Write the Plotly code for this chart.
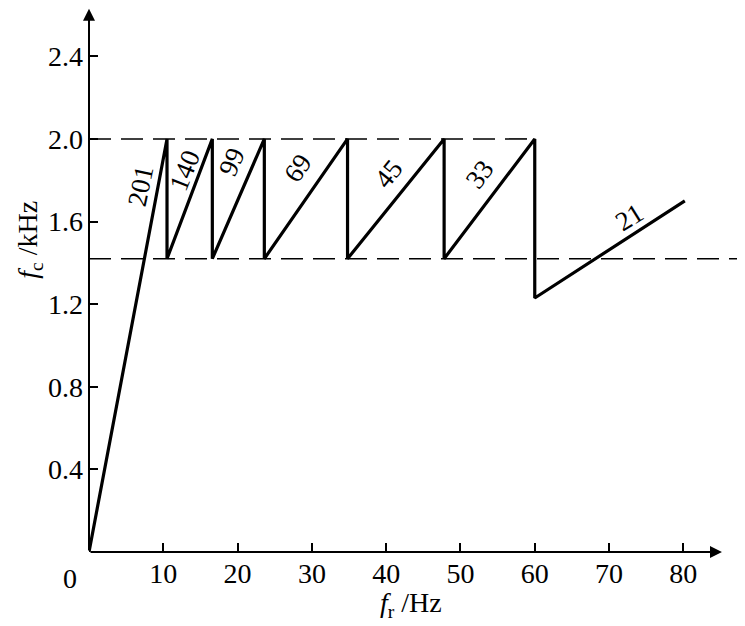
import plotly.graph_objects as go

# Sawtooth carrier-frequency curve (fr in Hz, fc in kHz)
fr_points = [0, 10.5, 10.5, 16.6, 16.6, 23.6, 23.6, 34.8, 34.8, 47.8, 47.8, 60.0, 60.0, 80.2]
fc_points = [0, 2.0, 1.42, 2.0, 1.42, 2.0, 1.42, 2.0, 1.42, 2.0, 1.42, 2.0, 1.23, 1.70]

# Dashed limit lines
upper_limit = 2.0
upper_limit_end = 60.0
lower_limit = 1.42

# Carrier ratio labels on each segment
ratio_labels = ["201", "140", "99", "69", "45", "33", "21"]
ratio_x = [7.0, 12.9, 19.2, 28.1, 40.3, 52.6, 72.8]
ratio_y = [1.77, 1.85, 1.89, 1.86, 1.83, 1.83, 1.62]
ratio_angle = [-78, -68, -66, -56, -51, -53, -32]

x_ticks = [10, 20, 30, 40, 50, 60, 70, 80]
y_ticks = [0.4, 0.8, 1.2, 1.6, 2.0, 2.4]

# the page body adds an 8px margin, so the figure is 8px smaller
X_MAX = 88.3
Y_MAX = 2.634
FONT = "Liberation Serif"
FS = 28

fig = go.Figure()

# dashed references
fig.add_trace(go.Scatter(
    x=[0, upper_limit_end], y=[upper_limit, upper_limit],
    mode="lines", line=dict(color="black", width=1.6, dash="22px,10px"),
    hoverinfo="skip",
))
fig.add_trace(go.Scatter(
    x=[0, X_MAX], y=[lower_limit, lower_limit],
    mode="lines", line=dict(color="black", width=1.6, dash="22px,10px"),
    hoverinfo="skip",
))

# main curve
fig.add_trace(go.Scatter(
    x=fr_points, y=fc_points,
    mode="lines", line=dict(color="black", width=3.2),
))

for txt, x, y, a in zip(ratio_labels, ratio_x, ratio_y, ratio_angle):
    fig.add_annotation(
        x=x, y=y, text=txt, showarrow=False, textangle=a,
        font=dict(family=FONT, size=27, color="black"),
    )

# axes with arrow heads
fig.add_annotation(
    x=85.2, y=0, ax=0, ay=0, xref="x", yref="y", axref="x", ayref="y",
    text="", showarrow=True, arrowhead=2, arrowsize=1.2, arrowwidth=2,
    arrowcolor="black", standoff=0,
)
fig.add_annotation(
    x=0, y=2.63, ax=0, ay=0, xref="x", yref="y", axref="x", ayref="y",
    text="", showarrow=True, arrowhead=2, arrowsize=1.2, arrowwidth=2,
    arrowcolor="black", standoff=0,
)

# origin label
fig.add_annotation(
    x=-0.029, y=0, xref="paper", yref="paper", yshift=-26, text="0",
    xanchor="center", yanchor="middle",
    showarrow=False, font=dict(family=FONT, size=FS, color="black"),
)

# axis titles
fig.add_annotation(
    x=-0.092, y=0.5735, xref="paper", yref="paper",
    text="<i>f</i><sub>c</sub> /kHz", textangle=-90, showarrow=False,
    xanchor="center", yanchor="middle",
    font=dict(family=FONT, size=FS, color="black"),
)
fig.add_annotation(
    x=0.491, y=0, xref="paper", yref="paper", yshift=-52,
    text="<i>f</i><sub>r</sub> /Hz", showarrow=False,
    xanchor="center", yanchor="middle",
    font=dict(family=FONT, size=FS, color="black"),
)

fig.update_layout(
    width=737, height=618,
    margin=dict(l=81, r=0, t=0, b=74),
    plot_bgcolor="white", paper_bgcolor="white",
    showlegend=False,
    font=dict(family=FONT, size=FS, color="black"),
)
fig.update_xaxes(
    range=[0, X_MAX], tickvals=x_ticks, ticks="inside", ticklen=9,
    tickwidth=1.5, tickcolor="black", showgrid=False, zeroline=False,
    showline=False, ticklabelstandoff=2, automargin=False,
)
fig.update_yaxes(
    range=[0, Y_MAX], tickvals=y_ticks, ticktext=[f"{v:.1f}" for v in y_ticks],
    ticks="inside", ticklen=9, tickwidth=1.5, tickcolor="black",
    showgrid=False, zeroline=False, showline=False, ticklabelstandoff=5,
    automargin=False,
)

fig.write_html("out.html")
